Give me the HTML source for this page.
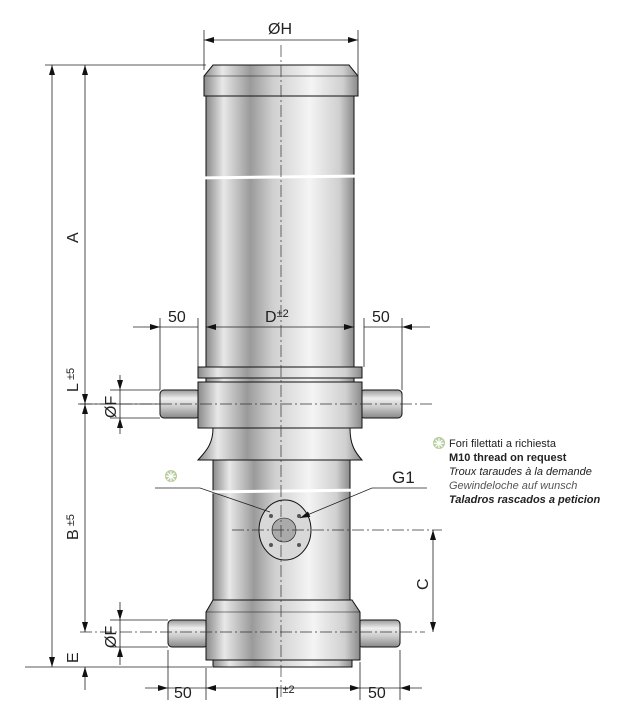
<!DOCTYPE html>
<html><head><meta charset="utf-8"><style>
body{margin:0;background:#fff}
svg{display:block}
text{font-family:"Liberation Sans",sans-serif;fill:#222}
</style></head><body>
<svg width="640" height="728" viewBox="0 0 640 728" xmlns="http://www.w3.org/2000/svg">
<defs>
<linearGradient id="m" x1="0" x2="1" y1="0" y2="0">
<stop offset="0" stop-color="#8a8a8a"/><stop offset="0.12" stop-color="#e8e8e8"/><stop offset="0.3" stop-color="#9a9a9a"/><stop offset="0.45" stop-color="#cfcfcf"/><stop offset="0.7" stop-color="#f4f4f4"/><stop offset="0.9" stop-color="#d0d0d0"/><stop offset="1" stop-color="#8a8a8a"/>
</linearGradient>
<linearGradient id="p" x1="0" x2="0" y1="0" y2="1">
<stop offset="0" stop-color="#999"/><stop offset="0.3" stop-color="#eee"/><stop offset="0.6" stop-color="#ccc"/><stop offset="1" stop-color="#888"/>
</linearGradient>
<marker id="a" viewBox="0 0 10 6" refX="10" refY="3" markerWidth="10" markerHeight="6" orient="auto-start-reverse" markerUnits="userSpaceOnUse"><path d="M0,0L10,3L0,6z" fill="#111"/></marker>
</defs>
<g stroke="#111" stroke-width="1">
<path d="M213,65 L349,65 L358,76 L358,96 L204,96 L204,76 Z" fill="url(#m)"/>
<line x1="204" y1="76" x2="358" y2="76" stroke-width="0.6"/>
<rect x="206" y="96" width="148" height="271" fill="url(#m)"/>
<rect x="198" y="367" width="164" height="11" fill="url(#m)"/>
<rect x="206" y="378" width="148" height="4" fill="url(#m)"/>
<rect x="160" y="390" width="40" height="28" rx="4" fill="url(#p)"/>
<rect x="360" y="390" width="42" height="28" rx="4" fill="url(#p)"/>
<rect x="198" y="382" width="164" height="46" fill="url(#m)"/>
<path d="M213,428 L350,428 C350,445 355,452 362,460 L198,460 C205,452 213,445 213,428 Z" fill="url(#m)"/>
<rect x="213" y="460" width="137" height="150" fill="url(#m)"/>
<rect x="168" y="620" width="40" height="27" rx="4" fill="url(#p)"/>
<rect x="358" y="620" width="42" height="27" rx="4" fill="url(#p)"/>
<path d="M213,600 L352,600 L360,612 L360,660 L206,660 L206,612 Z" fill="url(#m)"/>
<line x1="206" y1="612" x2="360" y2="612" stroke-width="0.6"/>
<rect x="213" y="660" width="139" height="7" fill="url(#m)"/>
<ellipse cx="285" cy="530" rx="26" ry="30" fill="#d8d8d8"/>
<circle cx="284" cy="530" r="12" fill="#aaa" stroke-width="0.6"/>
<g fill="#555" stroke="none"><circle cx="271" cy="516" r="2"/><circle cx="299" cy="516" r="2"/><circle cx="271" cy="545" r="2"/><circle cx="299" cy="545" r="2"/></g>
</g>
<g stroke="#fff" stroke-width="3">
<line x1="195" y1="178" x2="365" y2="176"/>
<line x1="198" y1="492" x2="368" y2="490"/>
</g>
<g stroke="#333" stroke-width="0.7" stroke-dasharray="12,3,2,3" fill="none">
<line x1="281" y1="45" x2="281" y2="700"/>
<line x1="80" y1="404" x2="435" y2="404"/>
<line x1="80" y1="632" x2="425" y2="632"/>
<line x1="232" y1="530" x2="442" y2="530"/>
</g>
<g stroke="#222" stroke-width="0.8" fill="none">
<line x1="204" y1="30" x2="204" y2="70"/><line x1="358" y1="30" x2="358" y2="90"/>
<line x1="204" y1="40" x2="358" y2="40" marker-start="url(#a)" marker-end="url(#a)"/>
<line x1="45" y1="65" x2="206" y2="65"/>
<line x1="25" y1="667" x2="212" y2="667"/>
<line x1="52" y1="65" x2="52" y2="667" marker-start="url(#a)" marker-end="url(#a)"/>
<line x1="85" y1="65" x2="85" y2="404" marker-start="url(#a)" marker-end="url(#a)"/>
<line x1="85" y1="404" x2="85" y2="632" marker-end="url(#a)"/>
<line x1="85" y1="410" x2="85" y2="404" marker-end="url(#a)"/>
<line x1="85" y1="690" x2="85" y2="667" marker-end="url(#a)"/>
<line x1="78" y1="404" x2="160" y2="404"/>
<line x1="110" y1="390" x2="160" y2="390"/><line x1="110" y1="418" x2="160" y2="418"/>
<line x1="120" y1="375" x2="120" y2="390" marker-end="url(#a)"/>
<line x1="120" y1="434" x2="120" y2="418" marker-end="url(#a)"/>
<line x1="120" y1="390" x2="120" y2="418"/>
<line x1="110" y1="620" x2="168" y2="620"/><line x1="110" y1="647" x2="168" y2="647"/>
<line x1="120" y1="602" x2="120" y2="620" marker-end="url(#a)"/>
<line x1="120" y1="665" x2="120" y2="647" marker-end="url(#a)"/>
<line x1="120" y1="620" x2="120" y2="647"/>
<line x1="160" y1="318" x2="160" y2="390"/><line x1="198" y1="318" x2="198" y2="367"/>
<line x1="364" y1="318" x2="364" y2="367"/><line x1="402" y1="318" x2="402" y2="390"/>
<line x1="133" y1="327" x2="160" y2="327" marker-end="url(#a)"/>
<line x1="206" y1="327" x2="354" y2="327" marker-start="url(#a)" marker-end="url(#a)"/>
<line x1="430" y1="327" x2="402" y2="327" marker-end="url(#a)"/>
<line x1="160" y1="327" x2="198" y2="327"/><line x1="364" y1="327" x2="402" y2="327"/>
<line x1="168" y1="650" x2="168" y2="700"/><line x1="206" y1="668" x2="206" y2="700"/>
<line x1="360" y1="662" x2="360" y2="700"/><line x1="400" y1="650" x2="400" y2="700"/>
<line x1="145" y1="688" x2="168" y2="688" marker-end="url(#a)"/>
<line x1="206" y1="688" x2="360" y2="688" marker-start="url(#a)" marker-end="url(#a)"/>
<line x1="422" y1="688" x2="400" y2="688" marker-end="url(#a)"/>
<line x1="168" y1="688" x2="206" y2="688"/><line x1="360" y1="688" x2="400" y2="688"/>
<line x1="433" y1="530" x2="433" y2="632" marker-start="url(#a)" marker-end="url(#a)"/>
<polyline points="155,488 200,488 270,512"/>
<polyline points="427,488 372,488 300,518" marker-end="url(#a)"/>
</g>
<g font-size="16">
<text x="268" y="34">ØH</text>
<text x="168" y="322">50</text>
<text x="372" y="322">50</text>
<text x="265" y="322">D<tspan font-size="11" dy="-5">±2</tspan></text>
<text x="174" y="698">50</text>
<text x="368" y="698">50</text>
<text x="275" y="698">I<tspan font-size="11" dy="-5"> ±2</tspan></text>
<text x="392" y="483" font-size="17">G1</text>
<text transform="translate(78,243) rotate(-90)">A</text>
<text transform="translate(78,392) rotate(-90)">L<tspan font-size="11" dy="-4"> ±5</tspan></text>
<text transform="translate(78,540) rotate(-90)">B<tspan font-size="11" dy="-4"> ±5</tspan></text>
<text transform="translate(78,663) rotate(-90)">E</text>
<text transform="translate(116,418) rotate(-90)">ØF</text>
<text transform="translate(116,648) rotate(-90)">ØF</text>
<text transform="translate(428,590) rotate(-90)">C</text>
</g>
<circle cx="171" cy="476" r="6" fill="#b6cc9c"/><text x="171" y="481" font-size="13" font-weight="bold" text-anchor="middle" style="fill:#fff">✳</text>
<circle cx="439" cy="443" r="6" fill="#b6cc9c"/><text x="439" y="448" font-size="13" font-weight="bold" text-anchor="middle" style="fill:#fff">✳</text>
<g font-size="11">
<text x="449" y="447">Fori filettati a richiesta</text>
<text x="449" y="461" font-weight="bold">M10 thread on request</text>
<text x="449" y="475" font-style="italic">Troux taraudes à la demande</text>
<text x="449" y="489" font-style="italic" style="fill:#555">Gewindeloche auf wunsch</text>
<text x="449" y="503" font-style="italic" font-weight="bold">Taladros rascados a peticion</text>
</g>
</svg>
</body></html>
